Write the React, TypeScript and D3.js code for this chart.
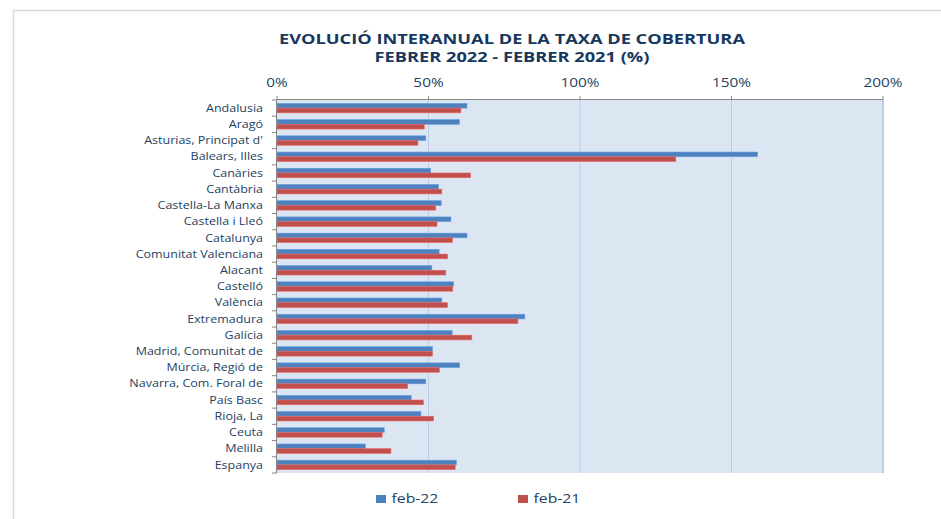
import React from "react";
import * as d3 from "d3";

const categories = [
  "Andalusia", "Aragó", "Asturias, Principat d'", "Balears, Illes", "Canàries",
  "Cantàbria", "Castella-La Manxa", "Castella i Lleó", "Catalunya", "Comunitat Valenciana",
  "Alacant", "Castelló", "València", "Extremadura", "Galícia",
  "Madrid, Comunitat de", "Múrcia, Regió de", "Navarra, Com. Foral de", "País Basc", "Rioja, La",
  "Ceuta", "Melilla", "Espanya",
];
const feb22 = [62.7, 60.2, 49.1, 158.6, 50.7, 53.3, 54.2, 57.4, 62.7, 53.5, 51.1, 58.3, 54.4, 81.8, 57.8, 51.3, 60.3, 49.1, 44.3, 47.5, 35.4, 29.2, 59.2];
const feb21 = [60.7, 48.6, 46.5, 131.6, 63.9, 54.4, 52.4, 52.8, 57.9, 56.3, 55.7, 58.0, 56.3, 79.5, 64.3, 51.3, 53.6, 43.1, 48.3, 51.7, 34.7, 37.6, 58.8];
const ticks = [0, 50, 100, 150, 200];
const seriesNames = ["feb-22", "feb-21"];
const titleLines = ["EVOLUCIÓ INTERANUAL DE LA TAXA DE COBERTURA", "FEBRER 2022 - FEBRER 2021 (%)"];

const W = 941, H = 519;
const left = 277, right = 883, top = 100, bottom = 473;
const blue = "#4F81BD", red = "#C0504D";
const textColor = "#243F60";
const font = "'Open Sans', 'DejaVu Sans', sans-serif";

export default function App() {
  const x = d3.scaleLinear().domain([0, 200]).range([left, right]);
  const y = d3.scaleBand().domain(categories).range([top, bottom]);
  const inner = d3.scaleBand().domain(seriesNames).range([0, y.bandwidth()]).paddingOuter(0.72).paddingInner(0);
  const series = [feb22, feb21];
  const colors = [blue, red];
  const boundaries = d3.range(categories.length + 1).map(i => top + i * y.step());

  return (
    <svg width={W} height={H} style={{ position: "absolute", left: 0, top: 0, background: "#fff" }}>
      <path d={`M13.5,${H}V10.5H${W}`} fill="none" stroke="#D9D9D9" strokeWidth={1.5} />
      {titleLines.map((t, i) => (
        <text key={i} transform={`translate(512,${43.5 + i * 18.6}) scale(1.35,1)`} textAnchor="middle" fontFamily={font} fontWeight="bold" fontSize={13.5} fill="#17375E">{t}</text>
      ))}
      <rect x={left} y={top} width={right - left} height={bottom - top} fill="#DCE6F2" />
      {ticks.slice(1).map(t => (
        <line key={t} x1={x(t)} x2={x(t)} y1={top} y2={bottom} stroke="#B9CDE5" strokeWidth={t === 200 ? 2 : 1} />
      ))}
      {categories.map((c, i) => (
        <g key={c}>
          {series.map((s, j) => (
            <rect key={j}
              x={x(0)} y={(y(c) as number) + (inner(seriesNames[j]) as number)}
              width={x(s[i]) - x(0)} height={inner.bandwidth()}
              fill={colors[j]} stroke={d3.color(colors[j])!.brighter(0.6).toString()} strokeWidth={0.6} />
          ))}
          <text transform={`translate(263,${(y(c) as number) + y.bandwidth() / 2}) scale(1.19,1)`} dy="0.35em" textAnchor="end" fontFamily={font} fontSize={10.5} fill={textColor}>{c}</text>
        </g>
      ))}
      <line x1={left} x2={right} y1={top - 0.5} y2={top - 0.5} stroke="#868686" strokeWidth={1} />
      <line x1={left - 0.5} x2={left - 0.5} y1={top} y2={bottom} stroke="#868686" strokeWidth={1} />
      {ticks.map(t => (
        <g key={t}>
          <line x1={x(t)} x2={x(t)} y1={top - 4} y2={top} stroke="#868686" />
          <text transform={`translate(${x(t)},83) scale(1.23,1)`} dy="0.35em" textAnchor="middle" fontFamily={font} fontSize={12.5} fill={textColor}>{t}%</text>
        </g>
      ))}
      {boundaries.map((b, i) => (
        <line key={i} x1={left - 5} x2={left} y1={b} y2={b} stroke="#868686" />
      ))}
      {seriesNames.map((n, i) => (
        <g key={n} transform={`translate(${376 + i * 142},0)`}>
          <rect x={0} y={495} width={10} height={8} fill={colors[i]} />
          <text transform={`translate(15.5,499) scale(1.26,1)`} dy="0.35em" fontFamily={font} fontSize={12.5} fill={textColor}>{n}</text>
        </g>
      ))}
    </svg>
  );
}
